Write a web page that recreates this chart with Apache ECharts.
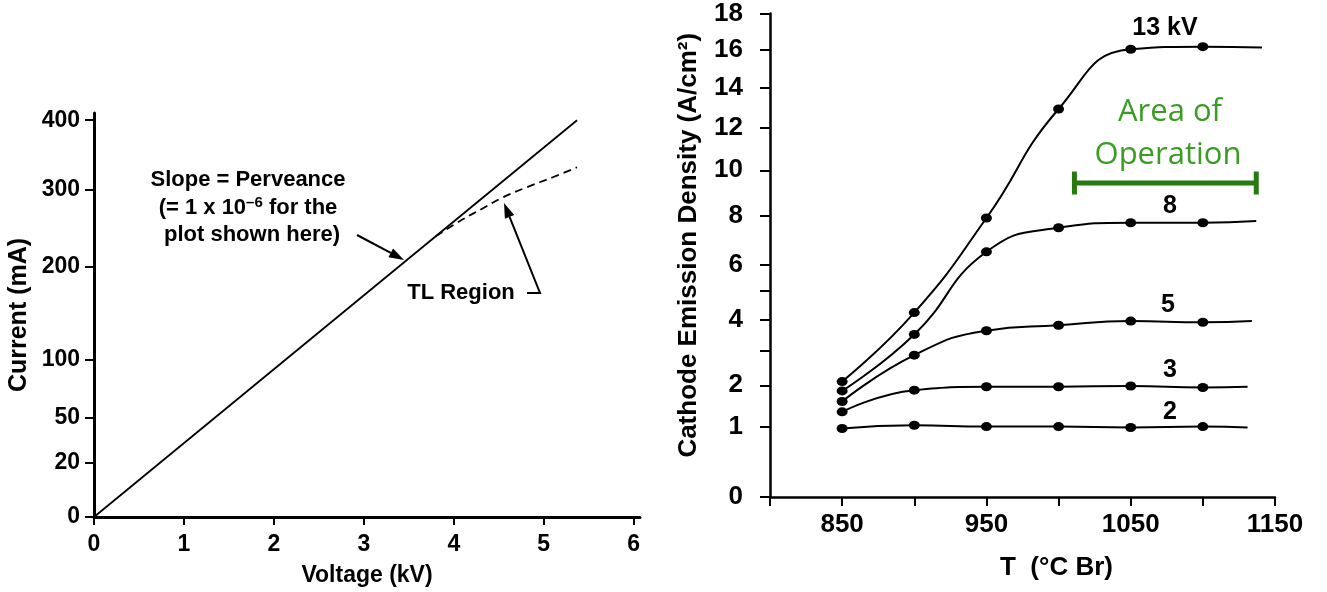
<!DOCTYPE html>
<html>
<head>
<meta charset="utf-8">
<script src="https://cdn.jsdelivr.net/npm/echarts@6.0.0/dist/echarts.min.js"></script>
<style>
  html, body { margin: 0; padding: 0; background: #fff; }
  #main { width: 1327px; height: 592px; }
</style>
</head>
<body>
<div id="main"></div>
<script>
// left panel: current vs voltage, y axis drawn on an I^(2/3) scale
var voltage = [0, 5.37];
var current = [0, 400];
var tlVoltage = [3.8, 4.1, 4.3, 4.54, 4.81, 5.1, 5.37];
var tlCurrent = [238, 260, 273, 289, 303, 317, 331];
var voltageTicks = [0, 1, 2, 3, 4, 5, 6];
var currentTicks = [0, 20, 50, 100, 200, 300, 400];

// right panel: emission density vs temperature, y axis on a J^(2/3) scale
var temps = [850, 900, 950, 1000, 1050, 1100];
var kv13 = [2.10, 4.24, 7.89, 12.94, 16.04, 16.18];
var kv8 = [1.85, 3.51, 6.50, 7.48, 7.69, 7.69];
var kv5 = [1.58, 2.86, 3.63, 3.81, 3.95, 3.91];
var kv3 = [1.33, 1.87, 1.96, 1.96, 1.98, 1.94];
var kv2 = [0.96, 1.03, 1.00, 1.00, 0.98, 1.00];
var lineEndT = [1141, 1137, 1134, 1131, 1131];
var lineEndJ = [16.14, 7.76, 3.95, 1.96, 0.98];
var tempTicks = [800, 850, 900, 950, 1000, 1050, 1100, 1150];
var tempLabels = [850, 950, 1050, 1150];
var densityTicks = [0, 1, 2, 3, 4, 5, 6, 8, 10, 12, 14, 16, 18];
var densityLabels = [0, 1, 2, 4, 6, 8, 10, 12, 14, 16, 18];
var operationT = [1011, 1137];
var operationJ = 9.42;

var tf = function (v) { return Math.pow(v, 2 / 3); };
var untf = function (v) { return Math.round(Math.pow(v, 1.5)); };

var font = "'Liberation Sans', Arial, sans-serif";
var black = "#000";

var myChart = echarts.init(document.getElementById("main"));

function curve(vals, endT, endJ) {
  var d = temps.map(function (t, i) { return [t, tf(vals[i])]; });
  d.push({ value: [endT, tf(endJ)], symbol: "none" });
  return {
    type: "line",
    xAxisIndex: 1,
    yAxisIndex: 1,
    data: d,
    smooth: 0.5,
    symbol: "circle",
    symbolSize: [11, 9],
    itemStyle: { color: black },
    lineStyle: { color: black, width: 2 },
    silent: true,
  };
}

function arrow(pts) {
  var n = pts.length;
  var a = pts[n - 2], b = pts[n - 1];
  var dx = b[0] - a[0], dy = b[1] - a[1];
  var len = Math.sqrt(dx * dx + dy * dy);
  var ux = dx / len, uy = dy / len;
  var hl = 15, hw = 5;
  var bx = b[0] - ux * hl, by = b[1] - uy * hl;
  var line = pts.slice(0, n - 1).concat([[bx, by]]);
  return [
    { type: "polyline", shape: { points: line }, style: { stroke: black, lineWidth: 2, fill: null } },
    {
      type: "polygon",
      shape: { points: [b, [bx - uy * hw, by + ux * hw], [bx + uy * hw, by - ux * hw]] },
      style: { fill: black },
    },
  ];
}

function txt(x, y, s, size, color, family, weight) {
  return {
    type: "text",
    x: x,
    y: y,
    style: {
      text: s,
      font: (weight || "bold") + " " + size + "px " + (family || font),
      fill: color || black,
      align: "center",
      verticalAlign: "middle",
    },
  };
}

var labelStyle = function (size, margin) {
  return { color: black, fontFamily: font, fontWeight: "bold", fontSize: size, margin: margin };
};

var option = {
  animation: false,
  grid: [
    { left: 94, top: 113, width: 546, height: 405 },
    { left: 770, top: 13.5, width: 505, height: 483.5 },
  ],
  xAxis: [
    {
      type: "value",
      gridIndex: 0,
      min: 0,
      max: 6.07,
      name: "Voltage (kV)",
      nameLocation: "middle",
      nameGap: 47,
      nameTextStyle: { color: black, fontFamily: font, fontWeight: "bold", fontSize: 23 },
      axisLine: { lineStyle: { color: black, width: 3 } },
      axisTick: { length: 8, lineStyle: { color: black, width: 2 }, customValues: voltageTicks },
      axisLabel: Object.assign(labelStyle(23, 16), { customValues: voltageTicks }),
      splitLine: { show: false },
    },
    {
      type: "value",
      gridIndex: 1,
      min: 800,
      max: 1150,
      name: "T  (°C Br)",
      nameLocation: "middle",
      nameGap: 58,
      nameTextStyle: { color: black, fontFamily: font, fontWeight: "bold", fontSize: 26, padding: [0, 0, 0, 68] },
      axisLine: { lineStyle: { color: black, width: 2.5 } },
      axisTick: { length: 9, lineStyle: { color: black, width: 2 }, customValues: tempTicks },
      axisLabel: Object.assign(labelStyle(26, 15), {
        customValues: tempLabels,
        formatter: function (v) { return String(v); },
      }),
      splitLine: { show: false },
    },
  ],
  yAxis: [
    {
      type: "value",
      gridIndex: 0,
      min: 0,
      max: tf(411),
      name: "Current (mA)",
      nameLocation: "middle",
      nameRotate: 90,
      nameGap: 62,
      nameTextStyle: { color: black, fontFamily: font, fontWeight: "bold", fontSize: 25 },
      axisLine: { lineStyle: { color: black, width: 3 } },
      axisTick: { length: 9, lineStyle: { color: black, width: 2 }, customValues: currentTicks.map(tf) },
      axisLabel: Object.assign(labelStyle(23, 14), {
        customValues: currentTicks.map(tf),
        formatter: function (v) { return untf(v); },
      }),
      splitLine: { show: false },
    },
    {
      type: "value",
      gridIndex: 1,
      min: 0,
      max: tf(18),
      name: "Cathode Emission Density (A/cm²)",
      nameLocation: "middle",
      nameRotate: 90,
      nameGap: 68,
      nameTextStyle: { color: black, fontFamily: font, fontWeight: "bold", fontSize: 26, padding: [0, 0, 0, 20] },
      axisLine: { lineStyle: { color: black, width: 2.5 } },
      axisTick: { length: 10, lineStyle: { color: black, width: 2 }, customValues: densityTicks.map(tf) },
      axisLabel: Object.assign(labelStyle(26, 27), {
        customValues: densityLabels.map(tf),
        formatter: function (v) { return untf(v); },
      }),
      splitLine: { show: false },
    },
  ],
  series: [
    {
      type: "line",
      xAxisIndex: 0,
      yAxisIndex: 0,
      data: voltage.map(function (v, i) { return [v, tf(current[i])]; }),
      symbol: "none",
      lineStyle: { color: black, width: 1.8 },
      silent: true,
    },
    {
      type: "line",
      xAxisIndex: 0,
      yAxisIndex: 0,
      data: tlVoltage.map(function (v, i) { return [v, tf(tlCurrent[i])]; }),
      symbol: "none",
      smooth: 0.4,
      lineStyle: { color: black, width: 1.8, type: [8, 5] },
      silent: true,
    },
    curve(kv13, lineEndT[0], lineEndJ[0]),
    curve(kv8, lineEndT[1], lineEndJ[1]),
    curve(kv5, lineEndT[2], lineEndJ[2]),
    curve(kv3, lineEndT[3], lineEndJ[3]),
    curve(kv2, lineEndT[4], lineEndJ[4]),
    {
      type: "line",
      xAxisIndex: 1,
      yAxisIndex: 1,
      data: operationT.map(function (t) { return [t, tf(operationJ)]; }),
      symbol: "rect",
      symbolSize: [5, 23],
      itemStyle: { color: "#267a10" },
      lineStyle: { color: "#267a10", width: 5 },
      silent: true,
    },
  ],
  graphic: [
    txt(248, 180, "Slope = Perveance", 22),
    {
      type: "text",
      x: 248,
      y: 207,
      style: {
        text: "{n|(= 1 x 10}{s|–6}{n| for the}",
        align: "center",
        verticalAlign: "middle",
        fill: black,
        rich: {
          n: { font: "bold 22px " + font, fill: black, lineHeight: 24, verticalAlign: "bottom" },
          s: { font: "bold 15px " + font, fill: black, lineHeight: 24, verticalAlign: "top" },
        },
      },
    },
    txt(252, 235, "plot shown here)", 22),
    txt(461, 293, "TL Region", 22),
    txt(1165, 28, "13 kV", 25),
    txt(1170, 206, "8", 25),
    txt(1168, 305, "5", 25),
    txt(1170, 370, "3", 25),
    txt(1170, 412, "2", 25),
    txt(1170, 112, "Area of", 31, "#3a9d23", "'Open Sans', sans-serif", "normal"),
    txt(1168, 155, "Operation", 31, "#3a9d23", "'Open Sans', sans-serif", "normal"),
  ]
    .concat(arrow([[357, 235], [404, 260]]))
    .concat(arrow([[527, 293], [540, 293], [504, 203]])),
};

myChart.setOption(option);
window.addEventListener("resize", function () {
  myChart.resize();
});
</script>
</body>
</html>
